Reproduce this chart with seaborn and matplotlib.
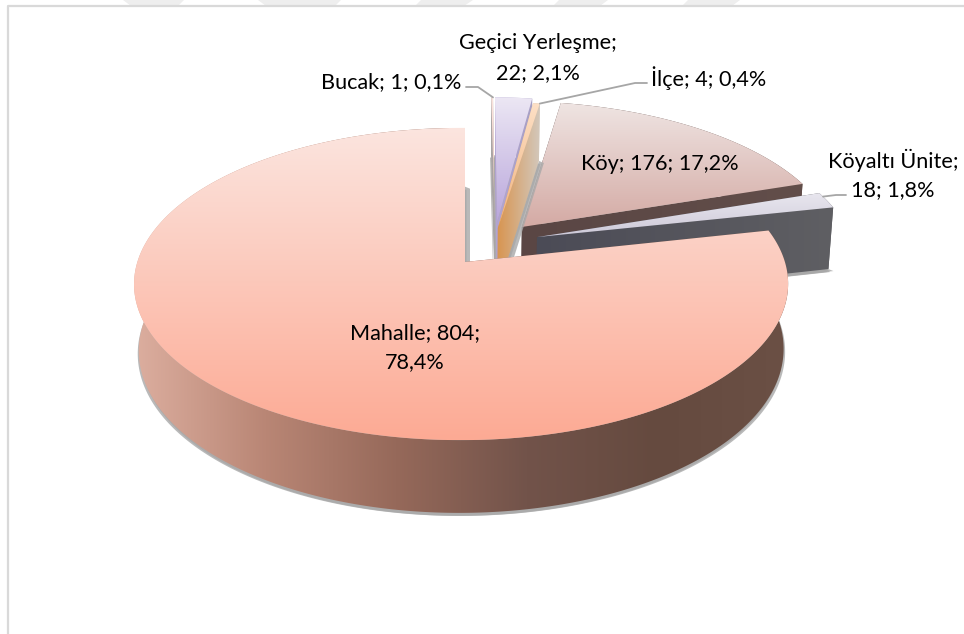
import numpy as np
import matplotlib
matplotlib.use('Agg')
import matplotlib.pyplot as plt
from matplotlib.patches import Polygon
import seaborn as sns

# Chart data
categories = ['Bucak', 'Geçici Yerleşme', 'İlçe', 'Köy', 'Köyaltı Ünite', 'Mahalle']
counts = [1, 22, 4, 176, 18, 804]
percent_labels = ['0,1%', '2,1%', '0,4%', '17,2%', '1,8%', '78,4%']

# Explosion of each slice on the pie plane, in pie radii
offsets = {
    'Bucak': (0.095, 0.27), 'Geçici Yerleşme': (0.102, 0.271), 'İlçe': (0.104, 0.23),
    'Köy': (0.18, 0.237), 'Köyaltı Ünite': (0.226, 0.167), 'Mahalle': (0.0, 0.0),
}
# top colours (back to front), wall colours (left to right)
face_colors = {
    'Bucak': ['#fbe3dd', '#f6c9bd'], 'Geçici Yerleşme': ['#ece7f4', '#b9a6dc'],
    'İlçe': ['#fde0c6', '#f2b27c'], 'Köy': ['#efe5e3', '#d4aaa4'],
    'Köyaltı Ünite': ['#e9e7ef', '#cdc9d8'], 'Mahalle': ['#fbe5df', '#fdaa94'],
}
wall_colors = {
    'Bucak': ['#a9a4a4', '#a9a4a4'], 'Geçici Yerleşme': ['#b3a4d2', '#a7a0c4'],
    'İlçe': ['#d8944f', '#d3c8bc'], 'Köy': ['#5a4644', '#624e4a'],
    'Köyaltı Ünite': ['#4b4b56', '#5f5f63'],
    'Mahalle': ['#dcae9f', '#b98675', '#96695a', '#72534a', '#654a3f', '#6b5045'],
}
# Mahalle is drawn a little narrower than the exploded slices
width_scale = {'Mahalle': 0.99}

# View of the tilted pie
X0, Y0 = 465, 262
A, B, DEPTH = 327, 153, 66
K_V, K_U, K_Z = 0.141, 0.012, 0.014


def project(u, v, z=0.0):
    u, v = np.asarray(u, float), np.asarray(v, float)
    w = 1 + K_V * v + K_U * u + K_Z * z
    return np.column_stack([X0 + A * u / w, Y0 - B * v / w + DEPTH * z / w])


def gradient_fill(ax, pts, colors, horizontal=False, span=None):
    pts = np.asarray(pts)
    cmap = sns.blend_palette(colors, 128, as_cmap=True)
    ramp = np.linspace(0, 1, 256)
    ramp = ramp[None, :] if horizontal else ramp[:, None]
    x0, x1 = pts[:, 0].min(), pts[:, 0].max()
    y0, y1 = pts[:, 1].min(), pts[:, 1].max()
    lo, hi = (span if span is not None else ((x0, x1) if horizontal else (y0, y1)))
    extent = (lo, hi, y1, y0) if horizontal else (x0, x1, hi, lo)
    im = ax.imshow(ramp, cmap=cmap, vmin=0, vmax=1, aspect='auto', zorder=ax.zcount,
                   extent=extent, interpolation='bilinear')
    patch = Polygon(pts, closed=True, transform=ax.transData, fc='none', ec='none')
    ax.add_patch(patch)
    im.set_clip_path(patch)
    ax.zcount += 1


def slice_rim(name, start, end, z=0.0):
    ou, ov = offsets[name]
    t = np.radians(np.linspace(start, end, max(int(end - start) * 2, 2) + 1))
    return project(ou + width_scale.get(name, 1.0) * np.sin(t), ov + np.cos(t), z)


def draw_slice(ax, name, start, end):
    ou, ov = offsets[name]
    top = slice_rim(name, start, end)
    bottom = slice_rim(name, start, end, 1.0)
    apex_top = project([ou], [ov])
    apex_bottom = project([ou], [ov], 1.0)
    cols = wall_colors[name]

    # soft drop shadow behind the block, wider along the closing cut
    cut_edge = np.vstack([apex_bottom, bottom[-1:]])
    shadows = [np.vstack([cut_edge, cut_edge[::-1] + [5, 2]])]
    for dx, dy in [(-1, 3), (1.5, 3)]:
        shadows.append(np.vstack([apex_bottom, bottom]) + [dx, dy])
    for shadow in shadows:
        ax.add_patch(Polygon(shadow, closed=True, fc='#a8a8a8', ec='none', alpha=0.8, zorder=ax.zcount))
        ax.zcount += 1

    # walls: far cut face, outer rim, near cut face
    quad_a = np.vstack([apex_top, top[0], bottom[0], apex_bottom])
    quad_b = np.vstack([apex_top, top[-1], bottom[-1], apex_bottom])
    rim = np.vstack([top, bottom[::-1]])
    all_x = np.vstack([quad_a, quad_b, rim])[:, 0]
    span = (all_x.min(), all_x.max())
    for poly in (quad_a, rim, quad_b):
        gradient_fill(ax, poly, cols, horizontal=True, span=span)

    # top of the slice
    face = np.vstack([apex_top, top])
    gradient_fill(ax, face, face_colors[name])


def main():
    sns.set_theme(style='white')
    plt.rcParams['font.family'] = ['Lato', 'DejaVu Sans']

    fig = plt.figure(figsize=(9.64, 6.34), dpi=100)
    ax = fig.add_axes([0, 0, 1, 1])
    ax.zcount = 5
    ax.set_xlim(0, 964)
    ax.set_ylim(634, 0)
    ax.axis('off')

    # watermark stripes at the top of the scanned page
    stripes = [(123, 184, 131, 178), (258, 341, 266, 335), (421, 473, 415, 464),
               (559, 608, 553, 600), (688, 740, 682, 732)]
    for a, b, c, d in stripes:
        ax.add_patch(Polygon([(a, 0), (b, 0), (d, 6), (c, 6)], fc='#eeeeee', ec='none', zorder=1))

    # chart frame
    ax.plot([8, 8, 964], [634, 6, 6], color='#d9d9d9', lw=1.6, zorder=2)

    # clockwise from 12 o'clock
    shares = np.array(counts) / np.sum(counts) * 360
    ends = np.cumsum(shares)
    starts = ends - shares
    angles = dict(zip(categories, zip(starts, ends)))
    for name in ['Bucak', 'Geçici Yerleşme', 'Köy', 'İlçe', 'Köyaltı Ünite', 'Mahalle']:
        draw_slice(ax, name, *angles[name])

    # leader lines
    tz = ax.zcount + 1
    leader = dict(color='#a6a6a6', lw=1.3, zorder=tz)
    rim_bucak = slice_rim('Bucak', *angles['Bucak'])[-1]
    rim_ilce = slice_rim('İlçe', *angles['İlçe'])[-1]
    rim_koyalti = slice_rim('Köyaltı Ünite', *angles['Köyaltı Ünite'])[3]
    ax.plot([466, 478, rim_bucak[0]], [87, 87, rim_bucak[1]], **leader)
    ax.plot([647, 635, rim_ilce[0]], [83, 83, rim_ilce[1]], **leader)
    ax.plot([846, 836, rim_koyalti[0]], [195, 195, rim_koyalti[1]], **leader)

    # data labels
    txt = dict(fontsize=15.6, color='black', ha='center', va='center', zorder=tz + 1)
    c = dict(zip(categories, counts))
    p = dict(zip(categories, percent_labels))
    ax.text(538, 43, 'Geçici Yerleşme;', **txt)
    ax.text(538, 73, f"{c['Geçici Yerleşme']}; {p['Geçici Yerleşme']}", **txt)
    ax.text(391, 82, f"Bucak; {c['Bucak']}; {p['Bucak']}", **txt)
    ax.text(709, 78, f"İlçe; {c['İlçe']}; {p['İlçe']}", **txt)
    ax.text(660, 164, f"Köy; {c['Köy']}; {p['Köy']}", **txt)
    ax.text(893, 160, 'Köyaltı Ünite;', **txt)
    ax.text(893, 190, f"{c['Köyaltı Ünite']}; {p['Köyaltı Ünite']}", **txt)
    ax.text(415, 333, f"Mahalle; {c['Mahalle']};", **txt)
    ax.text(415, 362, p['Mahalle'], **txt)

    ax.set_xlim(0, 964)
    ax.set_ylim(634, 0)
    fig.savefig('out.png', dpi=100, facecolor='white')


if __name__ == "__main__":
    main()
